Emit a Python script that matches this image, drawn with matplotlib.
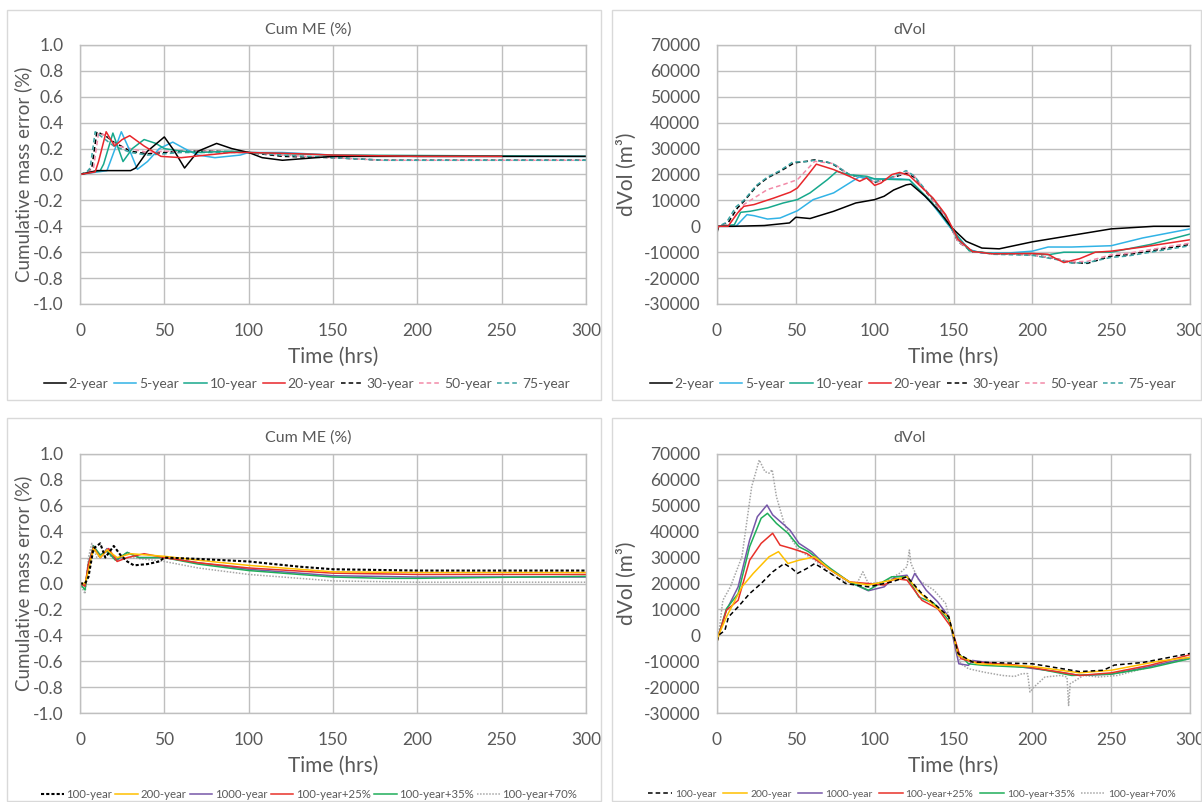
import matplotlib
matplotlib.use("Agg")
import matplotlib.pyplot as plt
from matplotlib.patches import Rectangle

plt.rcParams['font.family'] = ['Lato', 'DejaVu Sans']
plt.rcParams['axes.unicode_minus'] = False

W, H = 1202, 802

# ---------------- Top-left: Cum ME (%) ----------------
t_me_2yr = [0, 10, 30, 33, 40, 50, 56, 62, 70, 81, 90, 100, 108, 120, 140, 150, 200, 300]
me_2yr = [0, 0.03, 0.03, 0.05, 0.18, 0.29, 0.18, 0.05, 0.18, 0.24, 0.2, 0.17, 0.13, 0.11, 0.13, 0.14, 0.14, 0.14]
t_me_5yr = [0, 16, 18, 24.5, 29, 34, 40, 47, 55, 62, 70, 80, 95, 100, 120, 150, 200, 300]
me_5yr = [0, 0.03, 0.1, 0.33, 0.2, 0.04, 0.1, 0.2, 0.25, 0.2, 0.15, 0.13, 0.15, 0.17, 0.17, 0.15, 0.14, 0.14]
t_me_10yr = [0, 12, 14, 19.5, 25.5, 31, 38, 45, 50, 60, 70, 90, 100, 150, 300]
me_10yr = [0, 0.03, 0.08, 0.32, 0.10, 0.2, 0.27, 0.24, 0.2, 0.18, 0.17, 0.18, 0.17, 0.15, 0.14]
t_me_20yr = [0, 9, 11, 15.5, 20.5, 25, 29.5, 38, 48, 60, 75, 90, 100, 130, 150, 200, 250]
me_20yr = [0, 0.02, 0.1, 0.33, 0.22, 0.27, 0.30, 0.22, 0.14, 0.13, 0.15, 0.17, 0.17, 0.16, 0.15, 0.14, 0.14]
t_me_30yr = [0, 5, 7, 10, 15, 20, 30, 40, 50, 60, 80, 100, 120, 150, 180, 300]
me_30yr = [0, 0.02, 0.05, 0.33, 0.3, 0.25, 0.18, 0.16, 0.17, 0.18, 0.18, 0.17, 0.14, 0.13, 0.11, 0.11]
t_me_50yr = [0, 5, 8, 11, 16, 22, 30, 40, 50, 60, 80, 100, 120, 150, 180, 300]
me_50yr = [0, 0.02, 0.05, 0.32, 0.3, 0.22, 0.2, 0.17, 0.18, 0.18, 0.18, 0.17, 0.15, 0.13, 0.11, 0.11]
t_me_75yr = [0, 4, 6, 9, 14, 20, 30, 40, 50, 60, 80, 100, 120, 150, 180, 300]
me_75yr = [0, 0.02, 0.05, 0.33, 0.28, 0.22, 0.17, 0.15, 0.16, 0.17, 0.17, 0.17, 0.15, 0.13, 0.11, 0.11]

# ---------------- Top-right: dVol ----------------
t_dv_2yr = [0, 1, 10, 30, 46, 50, 59, 74, 88, 100, 106, 112, 120, 123, 132, 141, 149, 158, 168, 179, 200, 225, 250, 277, 300]
dv_2yr = [-2500, 0, 0, 300, 1300, 3500, 3000, 5800, 9000, 10300, 11600, 14000, 16000, 16300, 11600, 5800, -600, -5800, -8400, -8700, -6000, -3500, -1000, 0, 0]
t_dv_5yr = [0, 1, 12, 19, 23.5, 32, 40, 51, 61, 74, 84, 90, 100, 116, 122, 136, 149, 160, 168, 185, 200, 210, 225, 250, 270, 300]
dv_5yr = [-1500, 0, 0, 4500, 4100, 2800, 3200, 6000, 10300, 12900, 16700, 19000, 18300, 18300, 18000, 9000, -1300, -9000, -10300, -10300, -9600, -8000, -8000, -7500, -4500, -1000]
t_dv_10yr = [0, 1, 11, 15, 21, 32, 42, 51, 59, 70, 76, 84, 95, 100, 116, 122, 136, 149, 160, 175, 200, 210, 220, 250, 275, 300]
dv_10yr = [-1500, 0, 600, 5400, 5800, 7100, 9000, 10300, 12900, 18000, 21200, 19900, 19300, 18300, 18000, 18000, 9500, -1000, -9500, -10500, -10500, -11000, -10000, -10000, -7000, -3000]
t_dv_20yr = [0, 1, 7, 13, 17, 23.5, 36, 46.6, 51, 57, 63, 74, 84, 90.5, 95, 100, 104, 111, 116, 122, 128, 137, 145, 153, 162, 174, 200, 210, 215, 220, 230, 240, 250, 270, 300]
dv_20yr = [-1500, 0, 0, 5100, 7700, 8400, 10900, 13200, 14800, 19300, 24000, 21900, 19300, 17400, 18700, 15800, 16700, 20000, 20800, 19600, 16100, 10900, 4500, -5100, -9700, -10600, -10500, -10800, -12500, -14000, -12500, -10000, -9600, -8000, -5200]
t_dv_30yr = [0, 1, 7, 13, 17, 25, 32, 40, 49, 57, 62, 70, 74, 84, 95, 100, 110, 120, 125, 137, 145, 153, 162, 175, 200, 215, 225, 235, 250, 260, 280, 300]
dv_30yr = [-1500, 0, 1300, 7100, 9600, 15400, 18700, 21200, 24500, 25100, 25700, 24700, 23800, 19900, 18500, 17000, 18500, 20500, 19000, 10000, 3500, -6000, -9800, -10500, -11000, -12500, -14000, -14300, -11500, -11000, -9000, -7000]
t_dv_50yr = [0, 1, 8, 17, 32, 42, 51, 57, 62, 74, 84, 95, 100, 110, 120, 125, 137, 145, 153, 162, 175, 200, 215, 225, 235, 250, 260, 280, 300]
dv_50yr = [-1500, 0, 1000, 8400, 14200, 16100, 18000, 21900, 25100, 24200, 19900, 18500, 17000, 18500, 21000, 19500, 10000, 3500, -6000, -9800, -10500, -11000, -12500, -13800, -13500, -11000, -10500, -8500, -6500]
t_dv_75yr = [0, 1, 6, 12, 17, 25, 32, 40, 48, 57, 62, 70, 74, 84, 95, 100, 110, 120, 125, 137, 145, 153, 162, 175, 200, 215, 225, 235, 250, 260, 280, 300]
dv_75yr = [-1500, 0, 1500, 7500, 10000, 15800, 19000, 21500, 24800, 25000, 25500, 24800, 24000, 20000, 18500, 17200, 18800, 21500, 19500, 10500, 4000, -5500, -9500, -10800, -11200, -12800, -14200, -14000, -12000, -11500, -9500, -7500]

# ---------------- Bottom-left: Cum ME (%) ----------------
t_me_100yr = [0, 3, 5, 8, 12, 15, 20, 24, 28, 32, 40, 47, 50, 70, 100, 130, 150, 200, 300]
me_100yr = [0, 0, 0.05, 0.27, 0.31, 0.2, 0.29, 0.22, 0.17, 0.14, 0.15, 0.17, 0.2, 0.19, 0.17, 0.13, 0.11, 0.1, 0.1]
t_me_200yr = [0, 3, 5, 8, 12, 16, 22, 30, 40, 50, 70, 100, 150, 200, 300]
me_200yr = [0, 0, 0.1, 0.27, 0.2, 0.26, 0.2, 0.23, 0.22, 0.21, 0.18, 0.14, 0.09, 0.085, 0.085]
t_me_1000yr = [0, 3, 5, 8, 12, 16, 22, 28, 35, 50, 70, 100, 150, 200, 300]
me_1000yr = [0, -0.02, 0.15, 0.29, 0.2, 0.27, 0.18, 0.24, 0.2, 0.2, 0.16, 0.11, 0.06, 0.05, 0.05]
t_me_p25 = [0, 3, 5, 8, 12, 17, 22, 28, 38, 50, 70, 100, 150, 200, 300]
me_p25 = [0, -0.02, 0.15, 0.28, 0.2, 0.27, 0.17, 0.2, 0.23, 0.2, 0.16, 0.12, 0.08, 0.07, 0.07]
t_me_p35 = [0, 3, 5, 8, 12, 16, 21, 28, 35, 50, 70, 100, 150, 180, 200, 300]
me_p35 = [0, -0.05, 0.15, 0.29, 0.22, 0.25, 0.18, 0.24, 0.2, 0.2, 0.15, 0.1, 0.05, 0.04, 0.04, 0.055]
t_me_p70 = [0, 3, 5, 7, 10, 15, 20, 30, 50, 70, 100, 150, 200, 300]
me_p70 = [0, -0.08, 0.2, 0.31, 0.2, 0.25, 0.19, 0.2, 0.17, 0.12, 0.07, 0.02, 0.01, 0.01]

# ---------------- Bottom-right: dVol ----------------
t_dv_100yr = [0, 1, 5, 7.3, 13.4, 20.7, 28, 35.3, 42.6, 47.5, 51, 57, 62, 72, 81.6, 96, 110.8, 120.5, 130, 140, 147, 153, 162, 200, 230, 245, 252, 270, 300]
dv_100yr = [-2500, 0, 1900, 7100, 11000, 16100, 20000, 24500, 27700, 25800, 23900, 25800, 27700, 23900, 20000, 18700, 20600, 22600, 16100, 11000, 7100, -7100, -10300, -11000, -14000, -13500, -11500, -10500, -7000]
t_dv_200yr = [0, 1, 6, 15.8, 23, 33, 39, 45, 52, 62, 72, 84, 96, 110.8, 120.5, 128, 137.6, 147, 153, 165, 200, 230, 250, 280, 300]
dv_200yr = [-2500, 0, 7100, 18700, 23900, 30300, 32300, 27700, 29000, 30300, 25200, 20600, 19400, 21300, 22600, 16800, 11600, 7100, -7700, -11000, -12000, -14500, -13500, -10000, -8500]
t_dv_1000yr = [0, 1, 6, 13.4, 20.7, 25.6, 31.7, 35.3, 42.6, 46.3, 52, 60, 72, 84, 96, 106, 113, 120.5, 123, 125.4, 132.7, 140, 147, 151, 153.4, 159.5, 162, 169, 190, 215, 230, 250, 275, 300]
dv_1000yr = [-2500, 0, 9700, 18700, 36800, 45800, 50300, 46500, 42600, 40600, 35500, 32300, 25200, 20600, 17200, 18700, 22600, 23200, 20600, 23900, 17400, 12900, 7100, -4500, -11000, -11600, -9700, -10300, -12000, -14000, -15500, -15000, -12000, -8500]
t_dv_p25 = [0, 1, 6, 13.4, 20.7, 28, 35.3, 40, 47.5, 57, 72, 84, 96, 106, 113, 120.5, 130, 140, 148.5, 154.6, 162, 190, 210, 230, 250, 275, 300]
dv_p25 = [-2500, 0, 9700, 13500, 29000, 35500, 39400, 34800, 33500, 31600, 25200, 20600, 20000, 19400, 21900, 21300, 13500, 10300, 3200, -9000, -10300, -11500, -13500, -15500, -14500, -11500, -7500]
t_dv_p35 = [0, 1, 6, 13.4, 20.7, 28, 32, 37.7, 45, 52, 58, 72, 84, 96, 110.8, 120.5, 128, 137.6, 147, 153.4, 159.5, 169, 200, 225, 250, 275, 300]
dv_p35 = [-2500, 0, 10300, 16100, 34200, 45200, 47100, 43200, 39400, 34200, 32300, 25800, 20600, 17400, 22600, 22600, 14800, 12300, 5800, -7100, -11000, -11600, -12500, -15500, -15000, -12500, -9000]
t_dv_p70 = [0, 1, 3.7, 8.5, 15.8, 22, 26.8, 30.4, 33, 35, 37.7, 42.6, 47.5, 52, 62, 72, 81.6, 89, 92.5, 96, 106, 115.7, 120.5, 122, 123, 128, 137.6, 145, 149.7, 154.6, 159.5, 169, 181, 188.7, 193.6, 197, 198.5, 201, 208, 218, 222, 223, 224, 232.5, 242, 254, 266.6, 278.8, 300]
dv_p70 = [-2500, 0, 13500, 18700, 30300, 57400, 67700, 63200, 62600, 63900, 53500, 43200, 36800, 32900, 29000, 23900, 20600, 20300, 24500, 20000, 20600, 23900, 26500, 32900, 27700, 21300, 17400, 12300, 600, -11000, -12900, -14200, -15500, -15900, -14800, -14800, -21900, -20000, -16100, -15500, -16100, -27100, -18700, -15500, -16100, -15500, -13500, -11600, -9000]

labels_top = ['2-year', '5-year', '10-year', '20-year', '30-year', '50-year', '75-year']
labels_bot = ['100-year', '200-year', '1000-year', '100-year+25%', '100-year+35%', '100-year+70%']

col_top = ['#000000', '#31b3e6', '#17a88c', '#e8262b', '#000000', '#f28aa8', '#3aa3a3']
ls_top = ['-', '-', '-', '-', (0, (3, 2)), (0, (3, 2)), (0, (3, 2))]
col_bot = ['#000000', '#ffc000', '#7657a8', '#e8312a', '#1fae5a', '#a6a6a6']
ls_bl = [(0, (1.5, 1)), '-', '-', '-', '-', (0, (1, 1))]
ls_br = [(0, (3, 2)), '-', '-', '-', '-', (0, (1, 1))]

fig = plt.figure(figsize=(W / 100, H / 100), dpi=100)
fig.patch.set_facecolor('white')

# panel borders
for (x0, y0, x1, y1) in [(7, 10, 601, 400), (612, 10, 1201, 400), (7, 418, 601, 801), (612, 418, 1201, 801)]:
    fig.add_artist(Rectangle((x0 / W, 1 - y1 / H), (x1 - x0) / W, (y1 - y0) / H,
                             transform=fig.transFigure, fill=False, edgecolor='#d9d9d9', lw=1.0))

TXT = '#595959'
GRID = '#bfbfbf'


def fx(x):
    return x / W


def fy(y):
    return 1 - y / H


def make_ax(x0, y0, x1, y1):
    ax = fig.add_axes([x0 / W, 1 - y1 / H, (x1 - x0) / W, (y1 - y0) / H])
    ax.set_xlim(0, 300)
    ax.set_xticks(range(0, 301, 50))
    ax.grid(True, color=GRID, lw=1.0)
    ax.set_axisbelow(True)
    for s in ax.spines.values():
        s.set_color(GRID)
        s.set_linewidth(1.0)
    ax.tick_params(length=0, labelsize=12.5, colors=TXT)
    ax.tick_params(axis='x', pad=13.5)
    ax.tick_params(axis='y', pad=12)
    ax.set_xlabel('Time (hrs)', fontsize=15, color=TXT, labelpad=6)
    return ax


def me_axis(ax):
    ax.set_ylim(-1.0, 1.0)
    ticks = [-1.0 + 0.2 * i for i in range(11)]
    ax.set_yticks(ticks)
    ax.set_yticklabels([f"{v:.1f}" if abs(v) > 1e-9 else "0.0" for v in ticks])
    ax.set_ylabel('Cumulative mass error (%)', fontsize=13.5, color=TXT, labelpad=0)


def dv_axis(ax):
    ax.set_ylim(-30000, 70000)
    ticks = list(range(-30000, 70001, 10000))
    ax.set_yticks(ticks)
    ax.set_yticklabels([str(v) for v in ticks])
    ax.set_ylabel('dVol (m³)', fontsize=15, color=TXT, labelpad=5)


LW = 1.1
order = [4, 5, 6, 1, 2, 0, 3]
order_b = [5, 2, 4, 3, 1, 0]

# Top-left
ax1 = make_ax(80, 45, 586, 304)
me_axis(ax1)
top_me = [(t_me_2yr, me_2yr), (t_me_5yr, me_5yr), (t_me_10yr, me_10yr), (t_me_20yr, me_20yr),
          (t_me_30yr, me_30yr), (t_me_50yr, me_50yr), (t_me_75yr, me_75yr)]
h1 = [None] * 7
for i in order:
    t, v = top_me[i]
    h1[i], = ax1.plot(t, v, color=col_top[i], ls=ls_top[i], lw=LW, label=labels_top[i])
fig.text(fx(308), fy(30), 'Cum ME (%)', ha='center', va='center', fontsize=11.5, color=TXT)
fig.legend(handles=h1, loc='center', bbox_to_anchor=(fx(307), fy(384)),
           ncol=7, frameon=False, fontsize=10, handlelength=1.6, handletextpad=0.2, columnspacing=0.4,
           labelcolor=TXT, borderpad=0, borderaxespad=0)

# Top-right
ax2 = make_ax(717, 45, 1190, 304)
dv_axis(ax2)
top_dv = [(t_dv_2yr, dv_2yr), (t_dv_5yr, dv_5yr), (t_dv_10yr, dv_10yr), (t_dv_20yr, dv_20yr),
          (t_dv_30yr, dv_30yr), (t_dv_50yr, dv_50yr), (t_dv_75yr, dv_75yr)]
h2 = [None] * 7
for i in order:
    t, v = top_dv[i]
    h2[i], = ax2.plot(t, v, color=col_top[i], ls=ls_top[i], lw=LW, label=labels_top[i])
fig.text(fx(910), fy(30), 'dVol', ha='center', va='center', fontsize=11.5, color=TXT)
fig.legend(handles=h2, loc='center', bbox_to_anchor=(fx(913), fy(384)),
           ncol=7, frameon=False, fontsize=10, handlelength=1.6, handletextpad=0.2, columnspacing=0.4,
           labelcolor=TXT, borderpad=0, borderaxespad=0)

# Bottom-left
ax3 = make_ax(80, 454, 586, 713)
me_axis(ax3)
bot_me = [(t_me_100yr, me_100yr), (t_me_200yr, me_200yr), (t_me_1000yr, me_1000yr),
          (t_me_p25, me_p25), (t_me_p35, me_p35), (t_me_p70, me_p70)]
h3 = [None] * 6
for i in order_b:
    t, v = bot_me[i]
    h3[i], = ax3.plot(t, v, color=col_bot[i], ls=ls_bl[i], lw=LW + (0.4 if i == 0 else 0), label=labels_bot[i])
fig.text(fx(308), fy(438), 'Cum ME (%)', ha='center', va='center', fontsize=11.5, color=TXT)
fig.legend(handles=h3, loc='center', bbox_to_anchor=(fx(309), fy(794)),
           ncol=6, frameon=False, fontsize=8.2, handlelength=2.0, handletextpad=0.2, columnspacing=0.3,
           labelcolor=TXT, borderpad=0, borderaxespad=0)

# Bottom-right
ax4 = make_ax(717, 454, 1190, 713)
dv_axis(ax4)
bot_dv = [(t_dv_100yr, dv_100yr), (t_dv_200yr, dv_200yr), (t_dv_1000yr, dv_1000yr),
          (t_dv_p25, dv_p25), (t_dv_p35, dv_p35), (t_dv_p70, dv_p70)]
h4 = [None] * 6
for i in order_b:
    t, v = bot_dv[i]
    h4[i], = ax4.plot(t, v, color=col_bot[i], ls=ls_br[i], lw=LW, label=labels_bot[i])
fig.text(fx(910), fy(438), 'dVol', ha='center', va='center', fontsize=11.5, color=TXT)
fig.legend(handles=h4, loc='center', bbox_to_anchor=(fx(912), fy(794)),
           ncol=6, frameon=False, fontsize=7.5, handlelength=2.3, handletextpad=0.3, columnspacing=0.6,
           labelcolor=TXT, borderpad=0, borderaxespad=0)

fig.savefig('out.png', dpi=100, facecolor='white')
